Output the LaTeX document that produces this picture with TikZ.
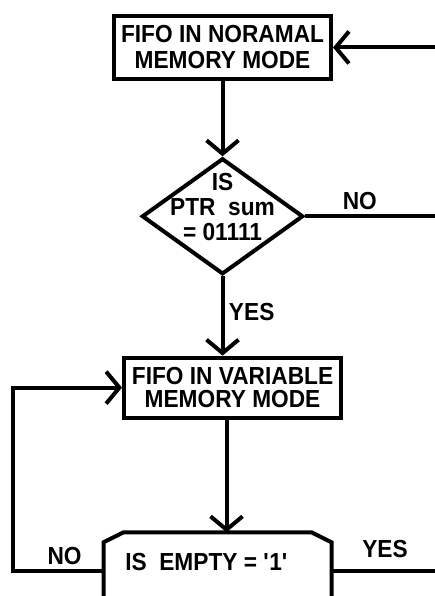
\documentclass[tikz,border=0pt]{standalone}
\usepackage{fontspec}
\setmainfont{Liberation Sans}[FakeStretch=0.92]
\usepackage{tikz}
\usetikzlibrary{shapes.geometric, arrows.meta, positioning}
\tikzset{
    process/.style={rectangle, minimum width=162.75pt, minimum height=47.25pt, text centered, align=center, draw=black, line width=3pt, inner sep=0pt},
    decision/.style={diamond, minimum width=121pt, minimum height=87pt, draw=black, line width=3pt, inner sep=0pt},
    emptytest/.style={rectangle, minimum width=171pt, minimum height=58.5pt, inner sep=0pt, outer sep=0pt},
    arrow/.style={line width=3pt,-{Straight Barb[length=10pt,width=24pt]}},
    wire/.style={line width=3pt}
}

\begin{document}
\begin{tikzpicture}[font=\bfseries\fontsize{18.5}{19.5}\selectfont]
    \path[use as bounding box, clip] (0,0) rectangle (326.25pt,-447pt);
    \coordinate (leftrail) at (9.75pt,0);
    \coordinate (rightrail) at (334pt,0);

    \node (normal) [process] at (166.9pt,-35.6pt) {FIFO IN NORAMAL\\MEMORY MODE};
    \node (check) [decision, below=56.5pt of normal, label={[align=center, yshift=6.75pt, font=\bfseries\fontsize{18.5}{18.75}\selectfont]center:IS\\PTR~~sum\\= 01111}] {};
    \node (variable) [process, minimum height=45pt, below=59.5pt of check, xshift=7.5pt, font=\bfseries\fontsize{18.5}{17}\selectfont] {FIFO IN VARIABLE\\MEMORY MODE};
    \node (empty) [emptytest, below=84.5pt of variable, xshift=-11.25pt, label={[xshift=-8.25pt, yshift=6.75pt]center:IS~~EMPTY = \textquotesingle1\textquotesingle}] {};
    % chamfered outline of the test box
    \draw [wire] ([xshift=15pt]empty.north west) -- ([xshift=-15pt]empty.north east) -- ([yshift=-7.5pt]empty.north east)
        -- ([yshift=7.5pt]empty.south east) -- ([xshift=-15pt]empty.south east) -- ([xshift=15pt]empty.south west)
        -- ([yshift=7.5pt]empty.south west) -- ([yshift=-7.5pt]empty.north west) -- cycle;

    \draw [arrow] (normal) -- (check);
    \draw [arrow] (check.south) -- node[right, pos=0.45] {YES} (check.south |- variable.north);
    \draw [arrow] (check.east) -- node[above, pos=0.39] {NO} (check.east -| rightrail) |- (normal.east);
    \draw [arrow] ([xshift=-4.5pt]variable.south) -- ([xshift=-4.5pt]variable.south |- empty.north);
    \draw [arrow] (empty.west) -- node[above, pos=0.43] {NO} (empty.west -| leftrail) |- (variable.west);
    \draw [wire] (empty.east) -- node[above, pos=0.47, yshift=5pt] {YES} (empty.east -| rightrail);
\end{tikzpicture}
\end{document}
